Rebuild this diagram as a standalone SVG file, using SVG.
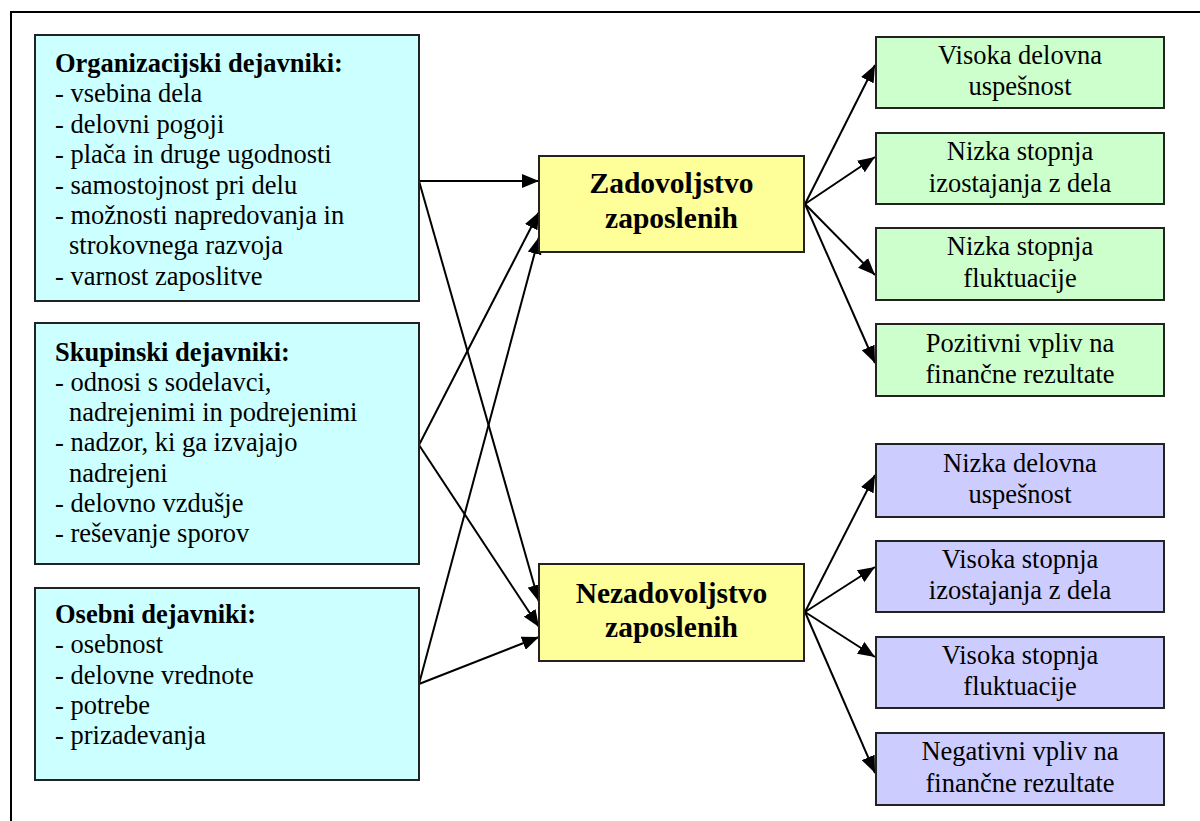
<svg xmlns="http://www.w3.org/2000/svg" width="1200" height="821" viewBox="0 0 1200 821">
<style>
.box{stroke:#222;stroke-width:2}
.cy{fill:#CCFFFF}.ye{fill:#FFFF99}.gr{fill:#CCFFCC}.pu{fill:#CCCCFF}
text{font-family:"Liberation Serif","Times New Roman",serif;fill:#000}
.t{font-size:26.5px}
.b{font-weight:bold}
.m{font-size:29.5px;font-weight:bold;text-anchor:middle}
.c{font-size:26.5px;text-anchor:middle}
.ln{stroke:#000;stroke-width:2;fill:none;marker-end:url(#ah)}
</style>
<defs>
<marker id="ah" markerUnits="userSpaceOnUse" markerWidth="18" markerHeight="14" refX="17" refY="7" orient="auto">
<path d="M0,0 L17,7 L0,14 Z" fill="#000"/>
</marker>
</defs>
<rect width="1200" height="821" fill="#fff"/>
<path d="M11,821 V12 H1200" stroke="#000" stroke-width="2" fill="none"/>

<g id="connectors">
<line class="ln" x1="419" y1="181" x2="539" y2="181"/>
<line class="ln" x1="419" y1="181" x2="539" y2="602"/>
<line class="ln" x1="419" y1="445" x2="539" y2="212"/>
<line class="ln" x1="419" y1="445" x2="539" y2="627"/>
<line class="ln" x1="419" y1="684" x2="539" y2="237"/>
<line class="ln" x1="419" y1="684" x2="539" y2="637"/>
<line class="ln" x1="805" y1="204" x2="875" y2="65"/>
<line class="ln" x1="805" y1="204" x2="875" y2="157"/>
<line class="ln" x1="805" y1="204" x2="875" y2="275"/>
<line class="ln" x1="805" y1="204" x2="875" y2="363"/>
<line class="ln" x1="805" y1="612" x2="875" y2="475"/>
<line class="ln" x1="805" y1="612" x2="875" y2="567"/>
<line class="ln" x1="805" y1="612" x2="875" y2="657"/>
<line class="ln" x1="805" y1="612" x2="875" y2="773"/>
</g>

<g id="organizacijski">
<rect class="box cy" x="35" y="35" width="384" height="266"/>
<text class="t b" x="55" y="72">Organizacijski dejavniki:</text>
<text class="t" x="55" y="102">- vsebina dela</text>
<text class="t" x="55" y="133">- delovni pogoji</text>
<text class="t" x="55" y="163">- plača in druge ugodnosti</text>
<text class="t" x="55" y="194">- samostojnost pri delu</text>
<text class="t" x="55" y="224">- možnosti napredovanja in</text>
<text class="t" x="69" y="254">strokovnega razvoja</text>
<text class="t" x="55" y="285">- varnost zaposlitve</text>
</g>

<g id="skupinski">
<rect class="box cy" x="35" y="323" width="384" height="241"/>
<text class="t b" x="55" y="361">Skupinski dejavniki:</text>
<text class="t" x="55" y="391">- odnosi s sodelavci,</text>
<text class="t" x="69" y="421">nadrejenimi in podrejenimi</text>
<text class="t" x="55" y="451">- nadzor, ki ga izvajajo</text>
<text class="t" x="69" y="482">nadrejeni</text>
<text class="t" x="55" y="512">- delovno vzdušje</text>
<text class="t" x="55" y="542">- reševanje sporov</text>
</g>

<g id="osebni">
<rect class="box cy" x="35" y="588" width="384" height="192"/>
<text class="t b" x="55" y="623">Osebni dejavniki:</text>
<text class="t" x="55" y="653">- osebnost</text>
<text class="t" x="55" y="684">- delovne vrednote</text>
<text class="t" x="55" y="714">- potrebe</text>
<text class="t" x="55" y="744">- prizadevanja</text>
</g>

<g id="zadovoljstvo">
<rect class="box ye" x="539" y="156" width="265" height="96"/>
<text class="m" x="671.5" y="193">Zadovoljstvo</text>
<text class="m" x="671.5" y="228">zaposlenih</text>
</g>

<g id="nezadovoljstvo">
<rect class="box ye" x="539" y="564" width="265" height="97"/>
<text class="m" x="671.5" y="603">Nezadovoljstvo</text>
<text class="m" x="671.5" y="637">zaposlenih</text>
</g>

<g id="g1">
<rect class="box gr" x="876" y="37" width="288" height="71"/>
<text class="c" x="1020" y="64">Visoka delovna</text>
<text class="c" x="1020" y="95">uspešnost</text>
</g>
<g id="g2">
<rect class="box gr" x="876" y="133" width="288" height="71"/>
<text class="c" x="1020" y="160">Nizka stopnja</text>
<text class="c" x="1020" y="192">izostajanja z dela</text>
</g>
<g id="g3">
<rect class="box gr" x="876" y="228" width="288" height="72"/>
<text class="c" x="1020" y="255">Nizka stopnja</text>
<text class="c" x="1020" y="287">fluktuacije</text>
</g>
<g id="g4">
<rect class="box gr" x="876" y="324" width="288" height="72"/>
<text class="c" x="1020" y="352">Pozitivni vpliv na</text>
<text class="c" x="1020" y="383">finančne rezultate</text>
</g>

<g id="p1">
<rect class="box pu" x="876" y="444" width="288" height="73"/>
<text class="c" x="1020" y="472">Nizka delovna</text>
<text class="c" x="1020" y="503">uspešnost</text>
</g>
<g id="p2">
<rect class="box pu" x="876" y="541" width="288" height="71"/>
<text class="c" x="1020" y="568">Visoka stopnja</text>
<text class="c" x="1020" y="599">izostajanja z dela</text>
</g>
<g id="p3">
<rect class="box pu" x="876" y="637" width="288" height="71"/>
<text class="c" x="1020" y="664">Visoka stopnja</text>
<text class="c" x="1020" y="695">fluktuacije</text>
</g>
<g id="p4">
<rect class="box pu" x="876" y="733" width="288" height="72"/>
<text class="c" x="1020" y="760">Negativni vpliv na</text>
<text class="c" x="1020" y="792">finančne rezultate</text>
</g>
</svg>
